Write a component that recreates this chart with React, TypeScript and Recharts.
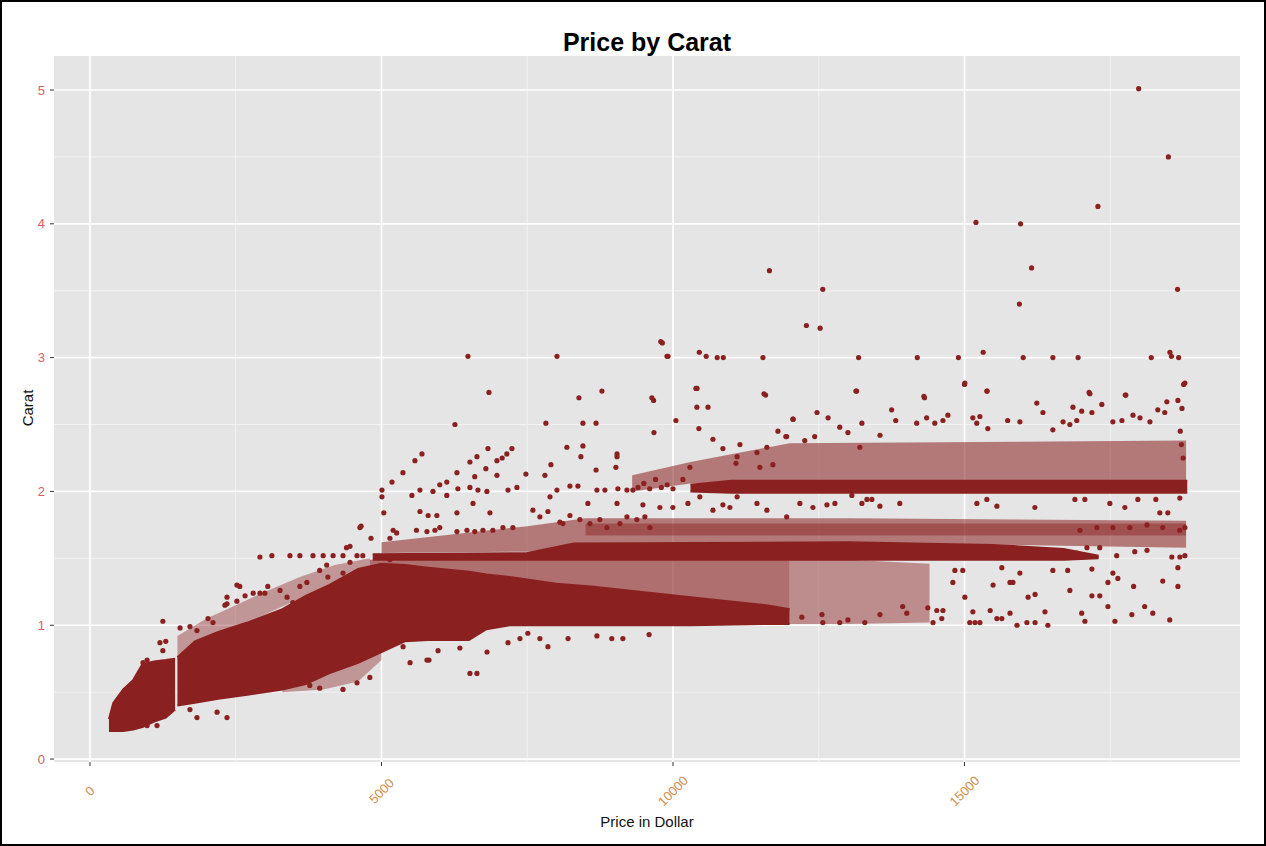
import React from 'react';
import { ComposedChart, Area, Scatter, XAxis, YAxis, CartesianGrid } from 'recharts';

const POINT = '#8B2020';
const FONT = '"Liberation Sans", Arial, sans-serif';

// axis ticks & grid values
const xTicks = [0, 5000, 10000, 15000];
const xMinor = [2500, 7500, 12500, 17500];
const yTicks = [0, 1, 2, 3, 4, 5];
const yMinor = [0.5, 1.5, 2.5, 3.5, 4.5];

// dense (solid) regions: price, lower carat, upper carat
const blobAPrice = [326, 400, 570, 740, 900, 1100, 1300, 1460];
const blobALow = [0.21, 0.21, 0.21, 0.22, 0.24, 0.28, 0.31, 0.37];
const blobAHigh = [0.30, 0.42, 0.52, 0.59, 0.71, 0.73, 0.74, 0.75];

const mainPrice = [1500, 1800, 2200, 2700, 3300, 3700, 4100, 4600, 5000, 5400, 5800, 6500, 6800, 7200, 8000, 8600, 10300, 11600, 12000];
const mainLow = [0.40, 0.42, 0.45, 0.48, 0.52, 0.56, 0.64, 0.72, 0.80, 0.88, 0.89, 0.89, 0.97, 1.00, 1.00, 1.00, 1.00, 1.01, 1.01];
const mainHigh = [0.76, 0.88, 0.95, 1.02, 1.12, 1.22, 1.30, 1.42, 1.46, 1.45, 1.43, 1.40, 1.38, 1.36, 1.31, 1.29, 1.21, 1.15, 1.12];

const band15Price = [4850, 7500, 8300, 13000, 15500, 16700, 17300];
const band15Low = [1.49, 1.49, 1.49, 1.49, 1.49, 1.49, 1.50];
const band15High = [1.53, 1.54, 1.61, 1.62, 1.60, 1.57, 1.52];

const band20Price = [10300, 11000, 18820];
const band20Low = [2.00, 1.99, 1.99];
const band20High = [2.05, 2.08, 2.08];

// speckled (half dense) regions
const zone17Price = [5000, 7500, 8500, 13000, 18800];
const zone17Low = [1.54, 1.55, 1.61, 1.62, 1.58];
const zone17High = [1.62, 1.74, 1.80, 1.80, 1.78];

const line17Price = [8500, 18800];
const line17Low = [1.67, 1.67];
const line17High = [1.76, 1.76];

const zone21Price = [9300, 10300, 12000, 18800];
const zone21Low = [2.00, 2.06, 2.07, 2.07];
const zone21High = [2.12, 2.22, 2.36, 2.38];

const zone14Price = [4800, 6000, 7000, 8000, 9000, 10000, 11600, 12000];
const zone14Low = [1.40, 1.42, 1.36, 1.30, 1.25, 1.22, 1.14, 1.12];
const zone14High = [1.49, 1.49, 1.49, 1.49, 1.49, 1.49, 1.49, 1.49];

const zoneRightPrice = [12000, 13000, 14400];
const zoneRightLow = [1.01, 1.01, 1.02];
const zoneRightHigh = [1.49, 1.49, 1.46];

const zoneLeftPrice = [1500, 2000, 2500, 3000, 3600, 4200, 4800];
const zoneLeftLow = [0.74, 0.90, 0.98, 1.08, 1.20, 1.28, 1.38];
const zoneLeftHigh = [0.92, 1.05, 1.15, 1.25, 1.36, 1.45, 1.50];

const zoneLowPrice = [3300, 4000, 4600, 5000];
const zoneLowLow = [0.50, 0.52, 0.58, 0.74];
const zoneLowHigh = [0.60, 0.70, 0.78, 0.85];

// individual points [price, carat]
const outliersHigh = [
  [17987, 5.01], [18497, 4.50], [17288, 4.13], [15196, 4.01], [15961, 4.00], [16150, 3.67], [11654, 3.65],
  [12569, 3.51], [15941, 3.40], [18654, 3.51], [12288, 3.24], [12523, 3.22], [9817, 3.11], [9915, 3.01],
  [10451, 3.04], [10569, 3.01], [10758, 3.00], [10863, 3.00], [11543, 3.00], [13183, 3.00], [14190, 3.00],
  [14895, 3.00], [15320, 3.04], [16006, 3.00], [16516, 3.00], [16948, 3.00], [18203, 3.00], [18523, 3.04],
  [18549, 3.01], [18673, 3.00], [10412, 2.77], [11588, 2.72], [13150, 2.75], [14314, 2.70], [15000, 2.80],
  [15386, 2.75], [17137, 2.74], [17758, 2.72], [18758, 2.80], [9667, 2.68], [6483, 3.01], [8010, 3.01],
  [9790, 3.12], [9897, 3.01], [6843, 2.74], [8781, 2.75], [8387, 2.70], [9638, 2.70], [10393, 2.77],
  [10410, 2.63], [10600, 2.63], [11560, 2.73], [13137, 2.75], [15006, 2.81], [15385, 2.75], [14303, 2.71],
  [17150, 2.73], [17767, 2.72], [18780, 2.81], [18470, 2.67], [18660, 2.68], [18730, 2.62], [16240, 2.66],
  [16345, 2.59], [12470, 2.59], [12660, 2.55], [12060, 2.54], [13750, 2.61], [13820, 2.53],
];

const scatterUpper = [
  [6260, 2.50], [7820, 2.51], [8455, 2.51], [8680, 2.51], [10050, 2.53], [9673, 2.44], [10444, 2.47],
  [10685, 2.39], [8180, 2.33], [8455, 2.34], [8420, 2.26], [9040, 2.28], [9040, 2.26], [9020, 2.18],
  [8680, 2.16], [7906, 2.20], [6826, 2.32], [6980, 2.23], [7070, 2.25], [7150, 2.28], [7237, 2.32],
  [6517, 2.22], [6637, 2.26], [6790, 2.17], [6294, 2.14], [5694, 2.28], [5574, 2.23], [5368, 2.14],
  [5180, 2.07], [5008, 2.01], [5008, 1.96], [5522, 1.97], [5660, 2.01], [5883, 2.00], [6000, 2.05],
  [6120, 2.07], [6120, 1.97], [6310, 2.02], [6517, 2.03], [6600, 2.11], [6654, 2.01], [6808, 2.00],
  [6980, 2.12], [7170, 2.01], [7323, 2.03], [7477, 2.13], [7803, 2.12], [8009, 2.01], [8232, 2.04],
  [8369, 2.04], [8695, 2.01], [8832, 2.01], [9055, 2.02], [9210, 2.01], [9312, 2.01], [9400, 2.03],
  [9500, 2.06], [9600, 2.02], [9700, 2.09], [9800, 2.03], [9900, 2.05], [10000, 2.02], [10170, 2.09],
  [10290, 2.18], [10856, 2.32], [11148, 2.35], [11100, 2.26], [11080, 2.21], [11440, 2.29], [11610, 2.33],
  [11490, 2.18], [11713, 2.20], [11800, 2.45], [11950, 2.41], [12057, 2.54], [12860, 2.48], [13000, 2.44],
  [13240, 2.51], [14180, 2.51], [14350, 2.55], [14490, 2.51], [14630, 2.53], [14715, 2.57], [15143, 2.55],
  [15264, 2.56], [15400, 2.47], [15210, 2.51], [15740, 2.53], [15950, 2.52], [16860, 2.63], [17010, 2.60],
  [17185, 2.59], [17355, 2.65], [17545, 2.52], [17700, 2.53], [17890, 2.57], [18010, 2.55], [18180, 2.52],
  [18315, 2.61], [18435, 2.59], [16515, 2.46], [16690, 2.52], [16807, 2.50], [16925, 2.53], [11935, 2.41],
  [12260, 2.38], [12430, 2.41], [13550, 2.42], [13205, 2.33], [18700, 2.45], [18720, 2.35], [18750, 2.25],
];

const scatterMid = [
  [5040, 1.84], [5200, 1.71], [5260, 1.69], [5660, 1.85], [5800, 1.82], [5950, 1.82], [5600, 1.71],
  [5780, 1.70], [5917, 1.71], [6000, 1.73], [6294, 1.84], [6294, 1.70], [6466, 1.71], [6600, 1.70],
  [6860, 1.84], [6740, 1.71], [6910, 1.71], [7083, 1.73], [7254, 1.73], [7597, 1.86], [7717, 1.81],
  [7855, 1.85], [8060, 1.77], [8112, 1.76], [8232, 1.82], [8403, 1.79], [8575, 1.76], [8746, 1.79],
  [8866, 1.73], [9090, 1.76], [9210, 1.81], [9380, 1.79], [9518, 1.81], [9604, 1.73], [9775, 1.88],
  [9998, 1.88], [10256, 1.91], [10685, 1.86], [10976, 1.88], [11440, 1.91], [11610, 1.86], [11950, 1.81],
  [8540, 1.91], [9040, 1.91], [9484, 1.90], [7890, 1.96], [11100, 1.96], [10460, 1.96], [10856, 1.90],
  [4650, 1.74], [4820, 1.65], [5145, 1.65], [6570, 1.91], [4630, 1.73], [12176, 1.91], [12400, 1.88],
  [12640, 1.90], [12777, 1.91], [13240, 1.91], [13411, 1.94], [13068, 1.97], [13326, 1.94], [13548, 1.89],
  [13890, 1.91], [15212, 1.91], [15383, 1.94], [15555, 1.89], [16207, 1.88], [16893, 1.94], [17064, 1.94],
  [17493, 1.91], [17750, 1.88], [17973, 1.94], [18282, 1.94], [18350, 1.84], [18487, 1.84], [18693, 1.95],
  [16980, 1.71], [17270, 1.73], [17545, 1.73], [17836, 1.73], [18130, 1.75], [18400, 1.73], [18690, 1.71],
  [18780, 1.73],
];

const scatterLeft = [
  [1250, 1.03], [1200, 0.87], [1300, 0.88], [1545, 0.98], [1715, 0.99], [1835, 0.96], [2025, 1.05],
  [2110, 1.02], [2350, 1.16], [2520, 1.18], [2660, 1.22], [2915, 1.24], [980, 0.74], [910, 0.72],
  [1250, 0.81], [1715, 0.37], [1835, 0.31], [2180, 0.35], [2350, 0.31], [980, 0.25], [1150, 0.25],
  [3770, 0.55], [3940, 0.53], [4340, 0.52], [4580, 0.57], [4800, 0.61], [5370, 0.84], [5490, 0.72],
  [5780, 0.74], [5970, 0.81], [6345, 0.83], [6517, 0.64], [6637, 0.64], [5815, 0.74], [6810, 0.80],
  [7170, 0.87], [7375, 0.90], [7510, 0.94], [7717, 0.90], [7855, 0.84], [8200, 0.90], [8695, 0.92],
  [8950, 0.90], [9140, 0.90], [9590, 0.93], [2915, 1.51], [3120, 1.52], [3430, 1.52], [3600, 1.52],
  [3825, 1.52], [4000, 1.52], [4170, 1.52], [4340, 1.52], [4580, 1.52], [4680, 1.52], [4400, 1.58],
  [4460, 1.59], [5145, 1.49], [4060, 1.45], [3940, 1.41], [4080, 1.36], [4460, 1.47], [4340, 1.39],
  [2520, 1.30], [2570, 1.29], [3050, 1.29], [2800, 1.24], [3000, 1.24], [2350, 1.21], [2315, 1.15],
  [3260, 1.26], [3380, 1.21], [3480, 1.17], [3600, 1.29], [3720, 1.32],
];

const scatterRight = [
  [18660, 1.43], [18660, 1.29], [18400, 1.33], [17900, 1.29], [17580, 1.03], [17870, 1.08], [18090, 1.14],
  [18230, 1.09], [18520, 1.04], [17460, 1.32], [17545, 1.39], [17630, 1.35], [17460, 1.14], [17185, 1.22],
  [17320, 1.22], [16807, 1.26], [17185, 1.42], [16770, 1.41], [16515, 1.41], [17010, 1.09], [17065, 1.03],
  [16380, 1.10], [16430, 1.00], [16210, 1.02], [16070, 1.02], [15900, 1.00], [16210, 1.23], [16090, 1.21],
  [15780, 1.09], [15555, 1.05], [15640, 1.05], [15830, 1.32], [15780, 1.32], [15950, 1.39], [15640, 1.43],
  [15490, 1.30], [15440, 1.11], [15264, 1.02], [15180, 1.02], [15090, 1.02], [15143, 1.10], [15006, 1.21],
  [14800, 1.32], [14835, 1.41], [14970, 1.41], [14460, 1.02], [14610, 1.05], [14370, 1.13], [14525, 1.11],
  [14630, 1.11], [13940, 1.14], [14010, 1.09], [13550, 1.08], [13290, 1.02], [13000, 1.04], [12860, 1.02],
  [12555, 1.08], [12570, 1.02], [12210, 1.06], [16927, 1.54], [17100, 1.58], [17320, 1.58], [17610, 1.52],
  [17920, 1.55], [18130, 1.56], [18556, 1.51], [18694, 1.51], [18780, 1.52],
];

const bandRows = (p: number[], lo: number[], hi: number[]) =>
  p.map((price, i) => ({ price, band: [lo[i], hi[i]] }));
const pointRows = (pairs: number[][]) => pairs.map(([price, carat]) => ({ price, carat }));

const solidBands = [
  bandRows(blobAPrice, blobALow, blobAHigh),
  bandRows(mainPrice, mainLow, mainHigh),
  bandRows(band15Price, band15Low, band15High),
  bandRows(band20Price, band20Low, band20High),
];
const softBands: [any[], number][] = [
  [bandRows(zone17Price, zone17Low, zone17High), 0.55],
  [bandRows(line17Price, line17Low, line17High), 0.45],
  [bandRows(zone21Price, zone21Low, zone21High), 0.55],
  [bandRows(zone14Price, zone14Low, zone14High), 0.6],
  [bandRows(zoneRightPrice, zoneRightLow, zoneRightHigh), 0.45],
  [bandRows(zoneLeftPrice, zoneLeftLow, zoneLeftHigh), 0.4],
  [bandRows(zoneLowPrice, zoneLowLow, zoneLowHigh), 0.4],
];
const pointSets = [outliersHigh, scatterUpper, scatterMid, scatterLeft, scatterRight].map(pointRows);

const Dot = (props: any) =>
  props.cx == null ? null : <circle cx={props.cx} cy={props.cy} r={2.6} fill={POINT} />;

const YTick = (props: any) => (
  <text x={45} y={props.y} dy="0.35em" textAnchor="end" fontSize={13} fontFamily={FONT} fill="#E05A64">
    {props.payload.value}
  </text>
);

const XTick = (props: any) => (
  <text
    x={props.x}
    y={791}
    textAnchor="middle"
    dominantBaseline="central"
    transform={`rotate(-45, ${props.x}, 791)`}
    fontSize={13}
    fontFamily={FONT}
    fill="#D09050"
  >
    {props.payload.value}
  </text>
);

export default function App() {
  return (
    <div style={{ position: 'absolute', left: 0, top: 0, width: 1266, height: 846, background: '#fff' }}>
      <ComposedChart width={1266} height={846} margin={{ top: 56, right: 26, bottom: 24, left: 0 }}>
        <CartesianGrid
          fill="#E5E5E5"
          stroke="#F2F2F2"
          strokeWidth={1}
          horizontalValues={yMinor}
          verticalValues={xMinor}
        />
        <CartesianGrid stroke="#FFFFFF" strokeWidth={1.7} horizontalValues={yTicks} verticalValues={xTicks} />
        <XAxis
          type="number"
          dataKey="price"
          domain={[-617, 19725]}
          ticks={xTicks}
          allowDataOverflow
          height={60}
          axisLine={false}
          tickLine={{ stroke: '#333333' }}
          tickSize={4}
          tick={<XTick />}
        />
        <YAxis
          type="number"
          dataKey="carat"
          domain={[-0.022, 5.254]}
          ticks={yTicks}
          allowDataOverflow
          width={54}
          axisLine={false}
          tickLine={{ stroke: '#333333' }}
          tickSize={4}
          tick={<YTick />}
        />
        {softBands.map(([rows, op], i) => (
          <Area
            key={'s' + i}
            data={rows}
            dataKey="band"
            type="linear"
            stroke="none"
            fill={POINT}
            fillOpacity={op}
            dot={false}
            activeDot={false}
            isAnimationActive={false}
          />
        ))}
        {solidBands.map((rows, i) => (
          <Area
            key={'b' + i}
            data={rows}
            dataKey="band"
            type="linear"
            stroke={POINT}
            strokeWidth={2}
            fill={POINT}
            fillOpacity={1}
            dot={false}
            activeDot={false}
            isAnimationActive={false}
          />
        ))}
        {pointSets.map((rows, i) => (
          <Scatter key={'p' + i} data={rows} shape={<Dot />} isAnimationActive={false} />
        ))}
      </ComposedChart>
      <svg width={1266} height={846} style={{ position: 'absolute', left: 0, top: 0, pointerEvents: 'none' }}>
        <text x={647} y={51} textAnchor="middle" fontSize={25} fontWeight="bold" fontFamily={FONT} fill="#000">
          Price by Carat
        </text>
        <text x={647} y={827} textAnchor="middle" fontSize={15} fontFamily={FONT} fill="#111">
          Price in Dollar
        </text>
        <text x={33} y={408} textAnchor="middle" fontSize={15} fontFamily={FONT} fill="#111" transform="rotate(-90, 33, 408)">
          Carat
        </text>
      </svg>
      <div
        style={{
          position: 'absolute',
          left: 0,
          top: 0,
          width: 1266,
          height: 846,
          border: '2px solid #000',
          boxSizing: 'border-box',
          pointerEvents: 'none',
        }}
      />
    </div>
  );
}
